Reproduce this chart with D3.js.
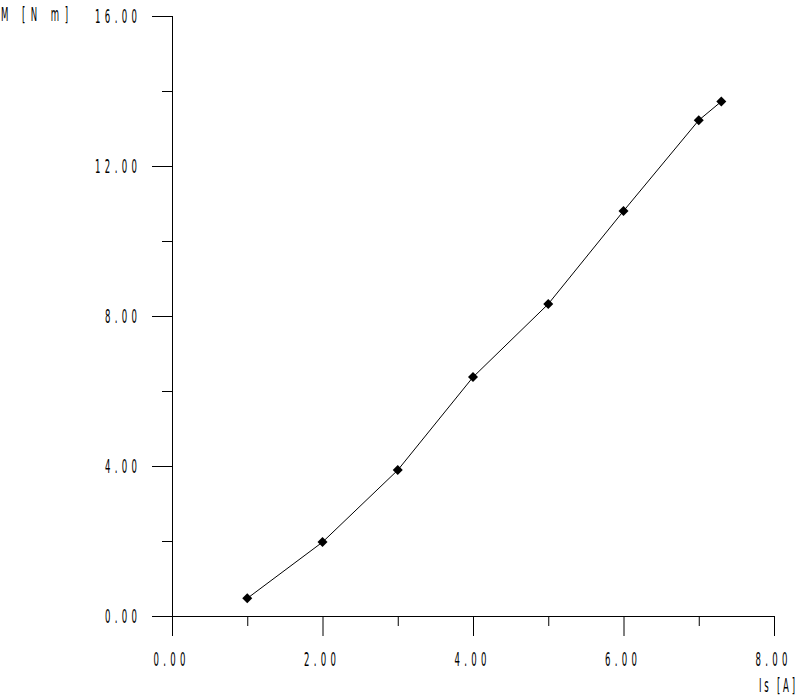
<!DOCTYPE html>
<html lang="en">
  <head>
    <meta charset="UTF-8" />
    <title>M vs Is</title>
    <script src="https://d3js.org/d3.v7.min.js"></script>
    <style>
      body { margin: 0; background: #fff; }
      .chart text {
        font-family: "Liberation Sans Narrow", "DejaVu Sans Condensed", sans-serif;
        font-size: 19px;
        fill: #000;
      }
    </style>
  </head>
  <body>
    <div class="chart"></div>
  </body>

  <script>
    // data
    var current = [1, 2, 3, 4, 5, 6, 7, 7.3];
    var torque = [0.47, 1.97, 3.89, 6.37, 8.32, 10.8, 13.22, 13.72];
    var xMajor = [0, 2, 4, 6, 8];
    var xMinor = [1, 3, 5, 7];
    var yMajor = [0, 4, 8, 12, 16];
    var yMinor = [2, 6, 10, 14];

    var W = 806, H = 698;
    var sx = 0.5; // horizontal squeeze of the narrow plotter font

    var svg = d3.select(".chart").append("svg")
      .attr("width", W).attr("height", H);

    var x = d3.scaleLinear().domain([0, 8]).range([172, 774]);
    var y = d3.scaleLinear().domain([0, 16]).range([616, 16]);

    var fmt = d3.format(".2f");

    // squeeze tick labels and spread the letters, ~10px per character
    function squeeze(sel) {
      sel.selectAll("text").each(function () {
        var t = d3.select(this);
        var ox = +t.attr("x") || 0;
        var n = t.text().length;
        t.attr("x", ox / sx).attr("transform", "scale(" + sx + ",1)")
          .attr("textLength", (n * 10 - 8) / sx)
          .attr("lengthAdjust", "spacing");
      });
    }

    // y axis
    var gy = svg.append("g").attr("transform", "translate(" + x(0) + ",0)")
      .call(d3.axisLeft(y).tickValues(yMajor).tickSize(20).tickSizeOuter(0)
        .tickPadding(15).tickFormat(fmt));
    gy.select(".domain").remove();
    gy.selectAll("text").attr("dy", "0.36em");
    squeeze(gy);

    var gy2 = svg.append("g").attr("transform", "translate(" + x(0) + ",0)")
      .call(d3.axisLeft(y).tickValues(yMinor).tickSize(10).tickFormat(""));
    gy2.select(".domain").remove();

    // x axis
    var gx = svg.append("g").attr("transform", "translate(0," + y(0) + ")")
      .call(d3.axisBottom(x).tickValues(xMajor).tickSize(20).tickSizeOuter(0)
        .tickPadding(17).tickFormat(fmt));
    gx.select(".domain").remove();
    squeeze(gx);
    gx.selectAll("text").attr("x", -3 / sx);

    var gx2 = svg.append("g").attr("transform", "translate(0," + y(0) + ")")
      .call(d3.axisBottom(x).tickValues(xMinor).tickSize(10).tickFormat(""));
    gx2.select(".domain").remove();

    svg.selectAll(".tick line").attr("stroke", "#000");

    // axis lines, both run past the origin
    svg.append("line")
      .attr("x1", x(0)).attr("x2", x(0))
      .attr("y1", y(16)).attr("y2", y(0) + 20)
      .attr("stroke", "#000").attr("shape-rendering", "crispEdges");
    svg.append("line")
      .attr("x1", x(0) - 20).attr("x2", x(8))
      .attr("y1", y(0)).attr("y2", y(0))
      .attr("stroke", "#000").attr("shape-rendering", "crispEdges");

    // axis titles
    svg.append("text").attr("x", 1 / sx).attr("y", 21)
      .attr("transform", "scale(" + sx + ",1)")
      .attr("textLength", 67 / sx).attr("lengthAdjust", "spacing")
      .text("M [N m]");
    svg.append("text").attr("x", 759 / sx).attr("y", 692)
      .attr("transform", "scale(" + sx + ",1)")
      .attr("textLength", 36 / sx).attr("lengthAdjust", "spacing")
      .text("Is [A]");

    // curve
    var pts = current.map(function (d, i) { return [d, torque[i]]; });
    svg.append("path")
      .datum(pts)
      .attr("fill", "none")
      .attr("stroke", "#000")
      .attr("stroke-width", 1)
      .attr("d", d3.line()
        .x(function (d) { return x(d[0]); })
        .y(function (d) { return y(d[1]); }));

    svg.selectAll(".pt")
      .data(pts)
      .enter()
      .append("path")
      .attr("class", "pt")
      .attr("d", d3.symbol().type(d3.symbolSquare).size(50))
      .attr("fill", "#000")
      .attr("transform", function (d) {
        return "translate(" + x(d[0]) + "," + y(d[1]) + ") rotate(45)";
      });
  </script>
</html>
